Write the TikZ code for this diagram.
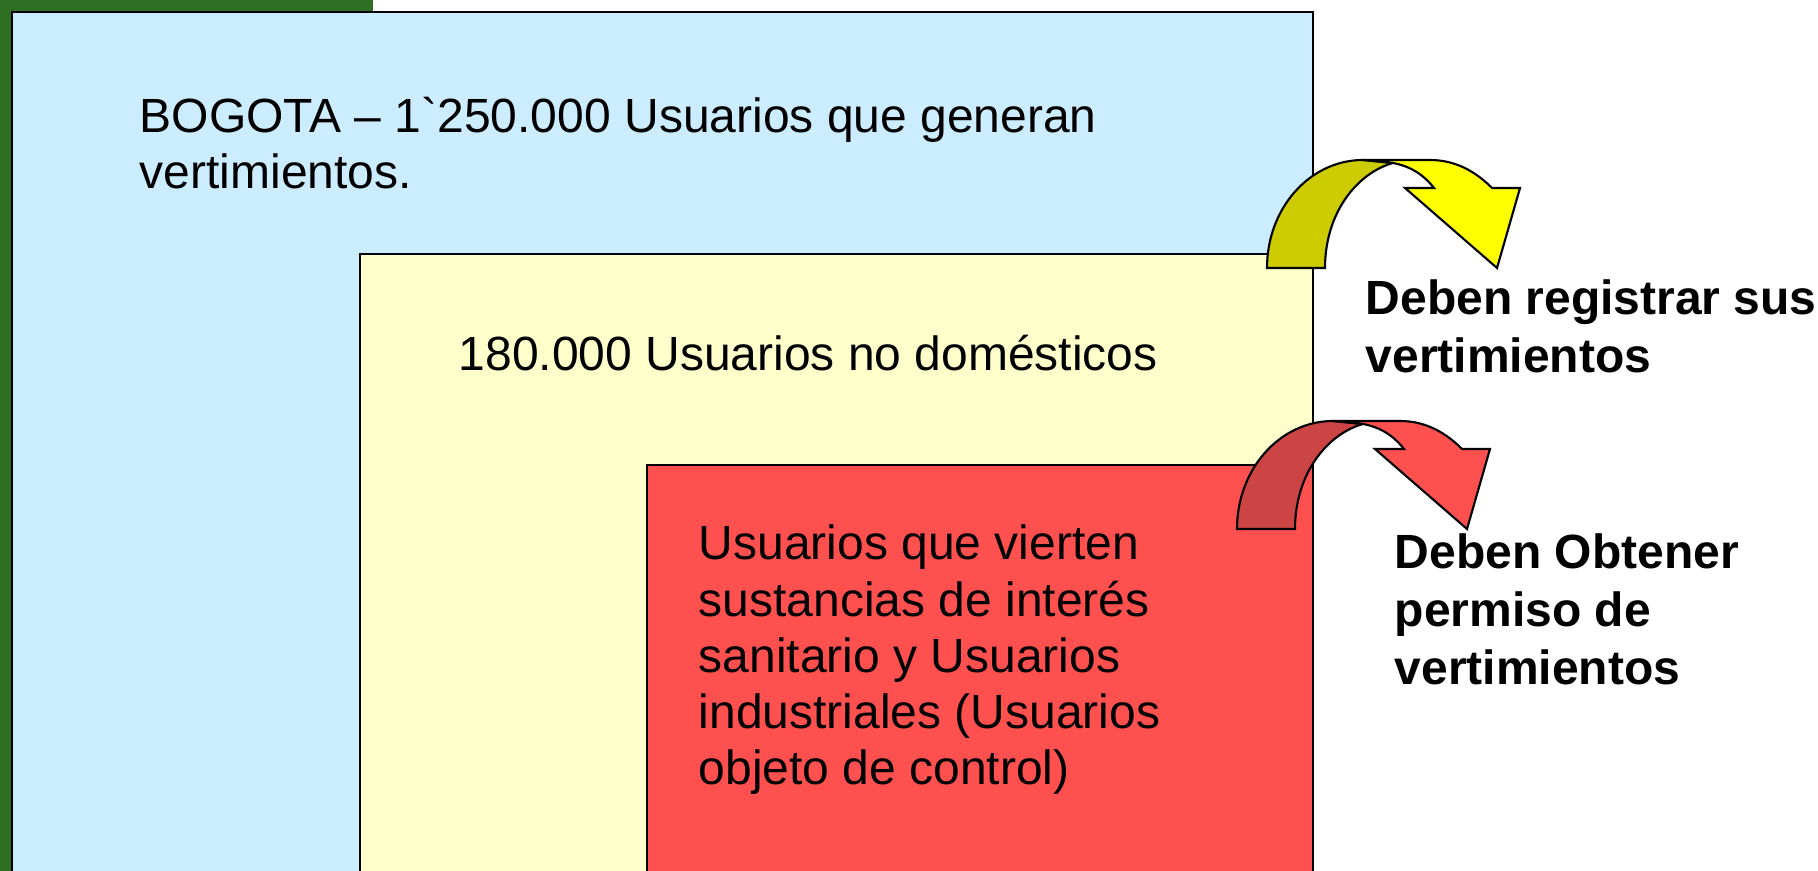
\documentclass[tikz,border=0pt]{standalone}
\usepackage{fontspec}
\setmainfont{Liberation Sans}
\newfontfamily\rawsans{Liberation Sans}[Ligatures=ResetAll]
\definecolor{bggreen}{HTML}{2F6F24}
\definecolor{boxblue}{HTML}{CCECFF}
\definecolor{boxyellow}{HTML}{FFFFCC}
\definecolor{boxred}{HTML}{FF5050}
\definecolor{arryel}{HTML}{FFFF00}
\definecolor{arryeldark}{HTML}{CCCC00}
\definecolor{arrred}{HTML}{FF5050}
\definecolor{arrreddark}{HTML}{CC4444}
\tikzset{
  boxline/.style={draw=black, line width=0.6pt},
  arrline/.style={draw=black, line width=0.6pt, line join=miter},
  plaintext/.style={inner sep=0pt, align=left, font=\fontsize{13.65}{16.0}\selectfont},
  boldtext/.style={inner sep=0pt, align=left, font=\bfseries\fontsize{13.65}{16.5}\selectfont},
}
\newcommand{\curvedarrow}[3]{%
  \begin{scope}[shift={#1}]
    \path[arrline, fill=#2] (0,0) -- (58,0) .. controls (58,-55) and (90,-95) .. (126,-105)
      -- (96,-108) .. controls (43,-108) and (0,-60) .. (0,0) -- cycle;
    \path[arrline, fill=#3] (96,-108) -- (163,-108) .. controls (190,-108) and (210,-95) .. (225,-80)
      -- (253,-80) -- (230,0) -- (138,-80) -- (167,-80)
      .. controls (155,-95) and (142,-102) .. (126,-105) -- cycle;
  \end{scope}}
\begin{document}
\begin{tikzpicture}[x=0.01cm, y=-0.01cm]
\useasboundingbox (0,0) rectangle (1818,871);
\clip (0,0) rectangle (1818,871);
\fill[white] (0,0) rectangle (1818,871);
% green background
\fill[bggreen] (0,0) rectangle (373,900);
% boxes
\path[boxline, fill=boxblue] (12,12) rectangle (1313,900);
\path[boxline, fill=boxyellow] (360,254) rectangle (1313,900);
\path[boxline, fill=boxred] (647,465) rectangle (1313,900);
% arrows
\curvedarrow{(1267,268)}{arryeldark}{arryel}
\curvedarrow{(1237,529)}{arrreddark}{arrred}
% texts
\node[plaintext, anchor=west] (bogota) at (139,143) {BOGOTA – 1{\rawsans\symbol{96}}250.000 Usuarios que generan\\vertimientos.};
\node[plaintext, anchor=west] (nodom) at (458,353) {180.000 Usuarios no domésticos};
\node[plaintext, anchor=west] (control) at (698,660) {Usuarios que vierten\\sustancias de interés\\sanitario y Usuarios\\industriales (Usuarios\\objeto de control)};
\node[boldtext, anchor=west] (registrar) at (1365,326) {Deben registrar sus\\vertimientos};
\node[boldtext, anchor=west] (permiso) at (1394,609) {Deben Obtener\\permiso de\\vertimientos};
\end{tikzpicture}
\end{document}
